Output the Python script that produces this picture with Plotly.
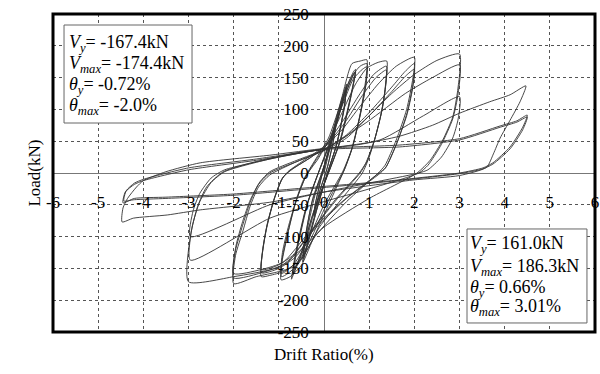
import plotly.graph_objects as go

# ---------------- data (drift %, load kN) ----------------
drift_025 = [0, 0.12, 0.25, 0.22, 0.08, -0.08, -0.22, -0.2, -0.06, 0.06, 0.24, 0.21, 0.06, -0.1, -0.23, -0.19, -0.04]
load_025 = [0, 35, 72, 55, 10, -25, -68, -52, -8, 25, 68, 52, 5, -30, -65, -48, 0]

drift_050 = [-0.04, 0.15, 0.35, 0.5, 0.47, 0.3, 0.1, -0.15, -0.35, -0.47, -0.44, -0.28, -0.05,
             0.15, 0.35, 0.49, 0.46, 0.28, 0.08, -0.15, -0.36, -0.46, -0.42, -0.25, -0.05,
             0.2, 0.4, 0.48, 0.45, 0.26, 0.05, -0.2, -0.4, -0.45, -0.4, -0.2, 0]
load_050 = [0, 50, 105, 140, 115, 50, 5, -55, -110, -140, -112, -50, 0,
            45, 100, 135, 108, 45, 0, -55, -110, -135, -105, -40, 0,
            55, 110, 130, 102, 40, -5, -65, -118, -130, -100, -35, 5]

drift_075 = [0, 0.25, 0.5, 0.66, 0.7, 0.62, 0.4, 0.15, -0.15, -0.45, -0.68, -0.72, -0.64, -0.42, -0.15,
             0.15, 0.45, 0.65, 0.7, 0.6, 0.36, 0.1, -0.2, -0.5, -0.68, -0.7, -0.6, -0.38, -0.1,
             0.2, 0.48, 0.66, 0.69, 0.58, 0.33, 0.05, -0.25, -0.52, -0.68, -0.69, -0.58, -0.35, -0.1]
load_075 = [5, 75, 135, 160, 163, 128, 60, 10, -45, -120, -160, -167, -130, -60, -5,
            50, 120, 155, 160, 122, 50, 0, -55, -125, -158, -160, -120, -50, 5,
            60, 125, 155, 158, 118, 45, -8, -65, -130, -155, -157, -115, -45, 5]

drift_100 = [-0.1, 0.15, 0.4, 0.62, 0.8, 0.95, 0.93, 0.82, 0.65, 0.45, 0.1, -0.25, -0.5, -0.75, -0.95,
             -0.93, -0.8, -0.65, -0.45, -0.2,
             0.1, 0.35, 0.6, 0.8, 0.95, 0.93, 0.8, 0.62, 0.45, 0.05, -0.3, -0.6, -0.8, -0.94,
             -0.92, -0.78, -0.62, -0.42, -0.2,
             0.1, 0.4, 0.65, 0.85, 0.95, 0.92, 0.78, 0.6, 0.42, 0, -0.35, -0.65, -0.85, -0.95,
             -0.92, -0.78, -0.6, -0.4, -0.15]
load_100 = [5, 55, 120, 172, 176, 178, 150, 100, 45, 5, -50, -105, -145, -163, -168,
            -140, -95, -50, -10, 20,
            55, 105, 150, 168, 172, 140, 90, 38, 5, -50, -105, -145, -158, -163,
            -132, -88, -45, -8, 18,
            50, 105, 148, 163, 167, 135, 85, 35, 3, -50, -105, -142, -155, -158,
            -125, -82, -40, -5, 20]

drift_150 = [-0.15, 0.1, 0.4, 0.7, 0.95, 1.2, 1.39, 1.37, 1.3, 1.15, 1.0, 0.85, 0.4, -0.1, -0.5, -0.9, -1.2, -1.39,
             -1.37, -1.28, -1.12, -0.95, -0.8, -0.4,
             0, 0.4, 0.8, 1.1, 1.38, 1.36, 1.27, 1.12, 0.95, 0.8, 0.3, -0.2, -0.6, -1.0, -1.38,
             -1.36, -1.26, -1.1, -0.92, -0.75, -0.35,
             0, 0.45, 0.85, 1.15, 1.38, 1.35, 1.25, 1.1, 0.92, 0.78, 0.25, -0.25, -0.7, -1.05, -1.38,
             -1.35, -1.25, -1.08, -0.9, -0.7, -0.3]
load_150 = [20, 50, 95, 140, 165, 174, 176, 145, 104, 60, 25, 0, -40, -85, -135, -155, -161, -163,
            -130, -90, -45, -12, 2, 22,
            42, 80, 125, 155, 168, 135, 95, 52, 18, 0, -40, -85, -130, -150, -157,
            -122, -82, -40, -8, 4, 22,
            40, 78, 122, 150, 162, 128, 88, 48, 15, 0, -42, -88, -130, -146, -152,
            -118, -78, -36, -6, 6, 24]

drift_200 = [-0.3, 0, 0.4, 0.8, 1.2, 1.6, 2.0, 1.97, 1.83, 1.6, 1.35, 1.2, 0.5, -0.2, -0.6, -1.0, -1.5, -2.0,
             -1.96, -1.79, -1.64, -1.45, -1.2, -0.6, 0,
             0.5, 1.0, 1.5, 1.8, 2.0, 1.97, 1.84, 1.62, 1.38, 1.25, 0.5, -0.3, -0.8, -1.3, -2.0,
             -1.96, -1.8, -1.64, -1.45, -1.2, -0.6, 0,
             0.5, 1.0, 1.5, 1.8, 2.0, 1.96, 1.83, 1.6, 1.36, 1.22, 0.45, -0.35, -0.9, -1.4, -2.0,
             -1.95, -1.8, -1.63, -1.42, -1.2, -0.6, 0]
load_200 = [24, 40, 68, 105, 140, 168, 182, 150, 100, 52, 12, 0, -45, -100, -145, -155, -163, -174,
            -130, -90, -53, -22, -3, 18, 36,
            60, 95, 135, 160, 172, 140, 95, 48, 10, 0, -40, -95, -140, -155, -165,
            -122, -82, -47, -18, 0, 18, 35,
            55, 90, 128, 152, 163, 132, 90, 45, 8, 0, -42, -95, -140, -152, -158,
            -115, -76, -42, -14, 2, 20, 36]

drift_300 = [0, 0.5, 1.0, 1.5, 2.0, 2.5, 3.0, 2.96, 2.85, 2.63, 2.35, 2.06, 1.0, 0, -0.5, -1.0, -2.0, -3.0,
             -2.96, -2.8, -2.6, -2.23, -1.5, -0.5, 0,
             0.95, 1.8, 2.4, 3.0, 2.97, 2.85, 2.6, 2.3, 2.1, 1.0, 0, -1.2, -2.96,
             -2.92, -2.75, -2.5, -2.2, -1.2, 0,
             1.24, 2.2, 3.0, 2.97, 2.85, 2.6, 2.3, 2.1, 0, -1.2, -2.96,
             -2.9, -2.75, -2.5, -2.2, -1.0, 0]
load_300 = [36, 58, 90, 125, 155, 177, 187, 130, 88, 52, 20, 0, -40, -85, -120, -148, -163, -171,
            -100, -53, -22, 2, 18, 33, 38,
            80, 125, 150, 170, 125, 85, 45, 12, 0, -25, -45, -71, -137,
            -85, -45, -15, 2, 22, 38,
            52, 90, 120, 85, 55, 25, 5, 0, -30, -50, -100,
            -60, -32, -8, 5, 25, 38]

drift_450 = [0, 0.8, 1.68, 2.4, 3.0, 3.67, 4.12, 4.47, 4.34, 4.12, 3.9, 3.75, 3.6, 3.0, 1.97, 0, -1.2, -2.74,
             -3.47, -4.22, -4.47, -4.45, -4.35, -4.15, -4.0, -3.5, -2.74, -1.2, 0.07,
             1.68, 3.0, 3.9, 4.27, 4.5, 4.4, 4.12, 3.74, 3.52, 3.0, 1.5, -0.5, -2.0, -3.5, -4.2, -4.45,
             -4.4, -4.2, -4.0, -3.0, -1.5, 0,
             1.68, 3.0, 3.9, 4.27, 4.5, 4.4, 4.12, 3.74, 3.5, 3.0, 1.5, -0.5, -2.0, -3.5, -4.2, -4.43,
             -4.38, -4.2, -4.0, -3.0, -1.5, 0]
load_450 = [38, 45, 58, 75, 94, 112, 123, 137, 112, 83, 55, 30, 9, -4, -11, -30, -46, -58,
            -66, -71, -77, -55, -40, -22, -12, 2, 16, 28, 39,
            44, 54, 74, 82, 91, 72, 41, 16, 8, 0, -12, -24, -33, -38, -40, -47,
            -30, -18, -12, 5, 20, 37,
            41, 52, 72, 80, 88, 68, 38, 14, 6, -1, -13, -26, -35, -40, -42, -44,
            -28, -16, -10, 8, 22, 38]

x_ticks = [-6, -5, -4, -3, -2, -1, 0, 1, 2, 3, 4, 5, 6]
y_ticks = [-250, -200, -150, -100, -50, 0, 50, 100, 150, 200, 250]

neg_box = ["<i>V</i><sub><i>y</i></sub>= -167.4kN",
           "<i>V</i><sub><i>max</i></sub>= -174.4kN",
           "<i>θ</i><sub><i>y</i></sub>= -0.72%",
           "<i>θ</i><sub><i>max</i></sub>= -2.0%"]
pos_box = ["<i>V</i><sub><i>y</i></sub>= 161.0kN",
           "<i>V</i><sub><i>max</i></sub>= 186.3kN",
           "<i>θ</i><sub><i>y</i></sub>= 0.66%",
           "<i>θ</i><sub><i>max</i></sub>= 3.01%"]

# ---------------- figure ----------------
FONT = "Liberation Serif, Times New Roman, serif"
fig = go.Figure()
series = [(drift_025, load_025), (drift_050, load_050), (drift_075, load_075),
          (drift_100, load_100), (drift_150, load_150), (drift_200, load_200),
          (drift_300, load_300), (drift_450, load_450)]
for xs, ys in series:
    fig.add_trace(go.Scatter(x=xs, y=ys, mode="lines", showlegend=False, hoverinfo="skip",
                             line=dict(color="#333333", width=0.9, shape="spline", smoothing=0.6)))

fig.update_layout(
    width=600, height=374,
    margin=dict(l=53, r=5, t=14, b=42, autoexpand=False),
    paper_bgcolor="white", plot_bgcolor="white",
    font=dict(family=FONT, size=17, color="black"),
    xaxis=dict(range=[-6, 6], tickvals=x_ticks, ticktext=[str(v) for v in x_ticks],
               showgrid=True, gridcolor="#555555", griddash="dot", gridwidth=1,
               zeroline=True, zerolinecolor="#777777", zerolinewidth=1, automargin=False,
               showline=False, ticks="", anchor="free", position=0.445,
               tickfont=dict(family=FONT, size=17, color="black")),
    yaxis=dict(range=[-250, 250], tickvals=y_ticks, ticktext=[str(v) for v in y_ticks],
               showgrid=True, gridcolor="#555555", griddash="dot", gridwidth=1,
               zeroline=True, zerolinecolor="#777777", zerolinewidth=1, automargin=False,
               showline=False, ticks="", anchor="free", position=0.472,
               tickfont=dict(family=FONT, size=17, color="black")),
)

# frame
fig.add_shape(type="rect", xref="x domain", yref="y domain", x0=0, x1=1, y0=0, y1=1,
              line=dict(color="black", width=3), layer="above")
# text boxes
fig.add_shape(type="rect", xref="x", yref="y", x0=-5.756, x1=-2.922, y0=78.6, y1=232.7,
              line=dict(color="#666666", width=1), fillcolor="white", layer="above")
fig.add_shape(type="rect", xref="x", yref="y", x0=3.166, x1=5.822, y0=-235.8, y1=-88,
              line=dict(color="#666666", width=1), fillcolor="white", layer="above")
for txt, yy in zip(neg_box, [204, 171, 137, 104]):
    fig.add_annotation(x=-5.69, y=yy, xref="x", yref="y", text=txt, showarrow=False,
                       xanchor="left", yanchor="middle", font=dict(family=FONT, size=18, color="black"))
for txt, yy in zip(pos_box, [-113, -148, -181, -212]):
    fig.add_annotation(x=3.19, y=yy, xref="x", yref="y", text=txt, showarrow=False,
                       xanchor="left", yanchor="middle", font=dict(family=FONT, size=18, color="black"))

# axis titles
fig.add_annotation(x=0.5, y=-0.072, xref="x domain", yref="paper", text="Drift Ratio(%)",
                   showarrow=False, yanchor="middle", font=dict(family=FONT, size=17, color="black"))
fig.add_annotation(x=-0.057, y=0.5, xref="paper", yref="paper", text="Load(kN)", textangle=-90,
                   showarrow=False, font=dict(family=FONT, size=17, color="black"))

fig.write_html("out.html", config={"displayModeBar": False},
               post_script="document.body.style.margin='0';")
